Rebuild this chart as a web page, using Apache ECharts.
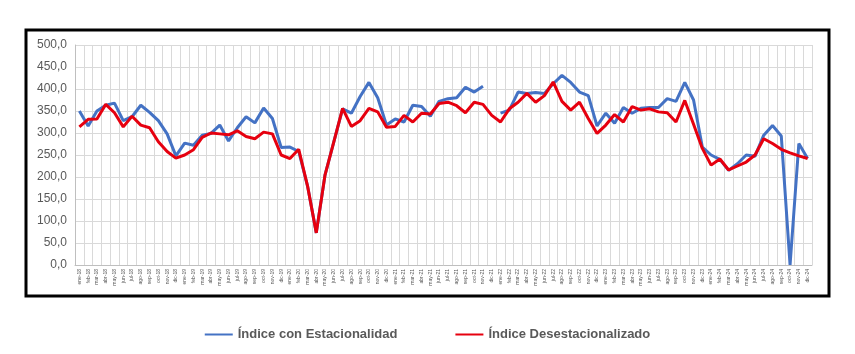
<!DOCTYPE html>
<html>
<head>
<meta charset="utf-8">
<script src="https://cdn.jsdelivr.net/npm/echarts@6/dist/echarts.min.js"></script>
<style>
  html, body { margin: 0; padding: 0; background: #fff; }
  #main { width: 855px; height: 354px; }
</style>
</head>
<body>
<div id="main"></div>
<script>
// meses y años del eje x
var meses = ['ene', 'feb', 'mar', 'abr', 'may', 'jun', 'jul', 'ago', 'sep', 'oct', 'nov', 'dic'];
var anios = ['18', '19', '20', '21', '22', '23', '24'];
var categorias = [];
anios.forEach(function (a) {
  meses.forEach(function (m) { categorias.push(m + '-' + a); });
});

// Índice con Estacionalidad (dic-21 sin dato)
var conEstacionalidad = [
  350, 316, 350, 363, 368, 328, 337, 363, 347, 328, 298, 248,
  277, 272, 295, 299, 318, 282, 312, 337, 323, 357, 333, 267,
  268, 258, 180, 73, 205, 280, 355, 345, 383, 415, 380, 318,
  332, 325, 363, 360, 338, 372, 378, 380, 404, 393, 406, null,
  345, 352, 393, 390, 392, 390, 412, 431, 415, 393, 385, 316,
  345, 322, 358, 345, 356, 358, 358, 378, 372, 415, 375, 268,
  250, 240, 215, 230, 250, 247, 295, 317, 293, 0, 276, 242
];

// Índice Desestacionalizado
var desestacionalizado = [
  314, 331, 332, 365, 346, 314, 338, 318, 312, 280, 258, 243,
  250, 262, 290, 300, 298, 296, 305, 292, 287, 302, 298, 250,
  242, 263, 180, 73, 205, 280, 356, 315, 328, 356, 348, 313,
  315, 340, 325, 345, 343, 367, 370, 362, 346, 370, 365, 340,
  325, 355, 370, 390, 370, 385, 416, 372, 352, 370, 333, 299,
  318, 342, 325, 360, 352, 355, 348, 346, 325, 374, 320, 265,
  227, 241, 216, 225, 234, 250, 287, 276, 263, 255, 248, 242
];

var chart = echarts.init(document.getElementById('main'));

var option = {
  animation: false,
  backgroundColor: '#fff',
  graphic: [{
    type: 'rect',
    shape: { x: 26, y: 30, width: 803, height: 266 },
    style: { fill: 'none', stroke: '#000', lineWidth: 3 },
    z: 100
  }],
  grid: { left: 75, right: 43, top: 45, bottom: 89 },
  legend: {
    bottom: 8,
    left: 'center',
    itemGap: 58,
    itemWidth: 28,
    itemHeight: 10,
    icon: 'path://M0,4 L28,4 L28,6 L0,6 Z',
    textStyle: { color: '#595959', fontSize: 13, fontWeight: 'bold', fontFamily: 'Liberation Sans' },
    data: ['Índice con Estacionalidad', 'Índice Desestacionalizado']
  },
  xAxis: {
    type: 'category',
    boundaryGap: true,
    data: categorias,
    axisLine: { lineStyle: { color: '#bfbfbf' } },
    axisTick: { show: false },
    axisLabel: {
      interval: 0,
      rotate: 90,
      fontSize: 5,
      color: '#595959',
      margin: 4,
      fontFamily: 'Liberation Sans'
    },
    splitLine: { show: true, interval: 0, lineStyle: { color: '#d9d9d9', width: 1 } }
  },
  yAxis: {
    type: 'value',
    min: 0,
    max: 500,
    interval: 50,
    axisLine: { show: true, lineStyle: { color: '#bfbfbf' } },
    axisTick: { show: false },
    axisLabel: {
      color: '#595959',
      fontSize: 12,
      fontFamily: 'Liberation Sans',
      formatter: function (v) { return v.toFixed(1).replace('.', ','); }
    },
    splitLine: { lineStyle: { color: '#d9d9d9', width: 1 } }
  },
  series: [
    {
      name: 'Índice con Estacionalidad',
      type: 'line',
      data: conEstacionalidad,
      connectNulls: false,
      showSymbol: false,
      symbol: 'none',
      lineStyle: { color: '#4472c4', width: 3 },
      itemStyle: { color: '#4472c4' }
    },
    {
      name: 'Índice Desestacionalizado',
      type: 'line',
      data: desestacionalizado,
      showSymbol: false,
      symbol: 'none',
      lineStyle: { color: '#e6000f', width: 3 },
      itemStyle: { color: '#e6000f' }
    }
  ]
};

chart.setOption(option);
</script>
</body>
</html>
